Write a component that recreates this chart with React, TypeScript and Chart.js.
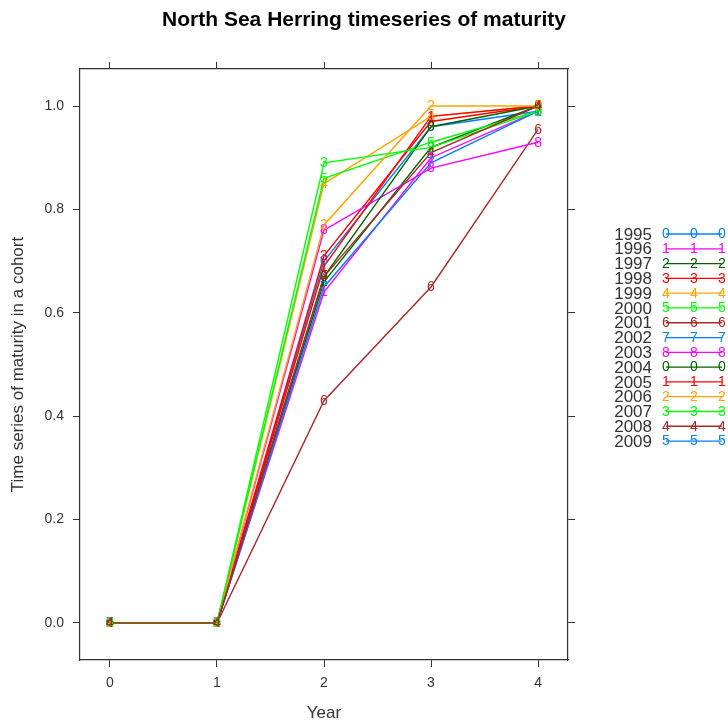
import React, { useEffect, useRef } from 'react';
import { Chart, registerables } from 'chart.js';

Chart.register(...registerables);

// ---- data ----
const AGES = [0, 1, 2, 3, 4];
const X_TICKS = [0, 1, 2, 3, 4];
const Y_TICKS = [0, 0.2, 0.4, 0.6, 0.8, 1.0];
const COHORTS = ['1995', '1996', '1997', '1998', '1999', '2000', '2001', '2002', '2003', '2004', '2005', '2006', '2007', '2008', '2009'];
const SYMBOLS = ['0', '1', '2', '3', '4', '5', '6', '7', '8', '0', '1', '2', '3', '4', '5'];
const PALETTE = ['#0080ff', '#ff00ff', '#006400', '#ff0000', '#ffa500', '#00ff00', '#a52a2a'];

const M1995 = [0, 0, 0.70, 0.96, 0.99];
const M1996 = [0, 0, 0.64, 0.90, 0.99];
const M1997 = [0, 0, 0.66, 0.92, 1.0];
const M1998 = [0, 0, 0.71, 0.97, 1.0];
const M1999 = [0, 0, 0.85, 0.98, 1.0];
const M2000 = [0, 0, 0.86, 0.93, 0.99];
const M2001 = [0, 0, 0.43, 0.65, 0.955];
const M2002 = [0, 0, 0.65, 0.89, 0.99];
const M2003 = [0, 0, 0.76, 0.88, 0.93];
const M2004 = [0, 0, 0.67, 0.96, 1.0];
const M2005 = [0, 0, 0.69, 0.98, 1.0];
const M2006 = [0, 0, 0.77, 1.0, 1.0];
const M2007 = [0, 0, 0.89, 0.92, 0.99];
const M2008 = [0, 0, 0.67, 0.91, 1.0];
const M2009: (number | null)[] = [null, null, null, null, null];
const SERIES = [M1995, M1996, M1997, M1998, M1999, M2000, M2001, M2002, M2003, M2004, M2005, M2006, M2007, M2008, M2009];

const TITLE = 'North Sea Herring timeseries of maturity';
const X_TITLE = 'Year';
const Y_TITLE = 'Time series of maturity in a cohort';

const FONT = '"Liberation Sans", Arial, sans-serif';
const AXIS_COL = '#333333';
const MARK_FONT = `14px ${FONT}`;

const markerPlugin = {
  id: 'pchMarkers',
  afterDatasetsDraw(chart: any) {
    const ctx = chart.ctx;
    ctx.save();
    ctx.font = MARK_FONT;
    ctx.textAlign = 'center';
    ctx.textBaseline = 'middle';
    chart.data.datasets.forEach((ds: any, i: number) => {
      const meta = chart.getDatasetMeta(i);
      ctx.fillStyle = ds.borderColor;
      meta.data.forEach((pt: any) => {
        if (pt.skip || !isFinite(pt.x) || !isFinite(pt.y)) return;
        ctx.fillText(ds.symbol, pt.x, pt.y + 0.5);
      });
    });
    ctx.restore();
  },
};

const keyPlugin = {
  id: 'latticeKey',
  afterDraw(chart: any) {
    const ctx = chart.ctx;
    const area = chart.chartArea;
    const textRight = area.right + 84;
    const lineStart = area.right + 98;
    const lineEnd = area.right + 154;
    const top = 234;
    const step = 14.79;
    ctx.save();
    chart.data.datasets.forEach((ds: any, i: number) => {
      const y = top + i * step;
      ctx.font = `17px ${FONT}`;
      ctx.textAlign = 'right';
      ctx.textBaseline = 'middle';
      ctx.fillStyle = AXIS_COL;
      ctx.fillText(ds.label, textRight, y + 1);
      ctx.strokeStyle = ds.borderColor;
      ctx.lineWidth = 1.3;
      ctx.beginPath();
      ctx.moveTo(lineStart, y);
      ctx.lineTo(lineEnd, y);
      ctx.stroke();
      ctx.font = MARK_FONT;
      ctx.textAlign = 'center';
      ctx.fillStyle = ds.borderColor;
      [lineStart, (lineStart + lineEnd) / 2, lineEnd].forEach((x) => ctx.fillText(ds.symbol, x, y + 0.5));
    });
    ctx.restore();
  },
};

const setTicks = (vals: number[]) => (scale: any) => {
  scale.ticks = vals.map((v) => ({ value: v }));
};

export default function App() {
  const ref = useRef<HTMLCanvasElement | null>(null);

  useEffect(() => {
    if (!ref.current) return;
    const datasets = SERIES.map((vals, i) => ({
      label: COHORTS[i],
      symbol: SYMBOLS[i],
      data: AGES.map((a, j) => ({ x: a, y: vals[j] })),
      borderColor: PALETTE[i % PALETTE.length],
      backgroundColor: PALETTE[i % PALETTE.length],
      borderWidth: 1.4,
      pointRadius: 0,
      pointHoverRadius: 0,
      tension: 0,
      fill: false,
      spanGaps: false,
      // later cohorts drawn on top, as lattice does
      order: SERIES.length - i,
    }));

    const gridCommon = {
      display: true,
      drawOnChartArea: false,
      drawTicks: true,
      tickLength: 7,
      color: AXIS_COL,
      lineWidth: 1,
    };
    const borderCommon = { display: true, color: AXIS_COL, width: 1.2 };
    const xMin = -0.28, xMax = 4.28, yMin = -0.0716, yMax = 1.0716;

    const chart = new Chart(ref.current, {
      type: 'line',
      data: { datasets } as any,
      plugins: [markerPlugin, keyPlugin],
      options: {
        animation: false,
        responsive: true,
        maintainAspectRatio: false,
        layout: { padding: 0 },
        plugins: {
          legend: { display: false },
          tooltip: { enabled: false },
          title: {
            display: true,
            text: TITLE,
            color: '#000',
            font: { size: 21, weight: 'bold', family: FONT },
            padding: { top: 8, bottom: 28.8 },
          },
        },
        scales: {
          x: {
            type: 'linear',
            position: 'bottom',
            min: xMin,
            max: xMax,
            afterBuildTicks: setTicks(X_TICKS),
            afterFit: (s: any) => { s.height = 67; },
            grid: gridCommon,
            border: borderCommon,
            ticks: {
              color: AXIS_COL,
              font: { size: 14, family: FONT },
              padding: 8,
              maxRotation: 0,
              callback: (v: any) => String(v),
            },
            title: {
              display: true,
              text: X_TITLE,
              color: AXIS_COL,
              font: { size: 17, family: FONT },
              padding: { top: 0, bottom: 3.8 },
            },
          },
          x2: {
            type: 'linear',
            position: 'top',
            min: xMin,
            max: xMax,
            afterBuildTicks: setTicks(X_TICKS),
            afterFit: (s: any) => { s.height = 7; },
            grid: gridCommon,
            border: borderCommon,
            ticks: { display: false },
          },
          y: {
            type: 'linear',
            position: 'left',
            min: yMin,
            max: yMax,
            afterBuildTicks: setTicks(Y_TICKS),
            afterFit: (s: any) => { s.width = 80; },
            grid: gridCommon,
            border: borderCommon,
            ticks: {
              color: AXIS_COL,
              font: { size: 14, family: FONT },
              padding: 9,
              callback: (v: any) => Number(v).toFixed(1),
            },
            title: {
              display: true,
              text: Y_TITLE,
              color: AXIS_COL,
              font: { size: 17, family: FONT },
              padding: { top: 7.8, bottom: 0 },
            },
          },
          y2: {
            type: 'linear',
            position: 'right',
            min: yMin,
            max: yMax,
            afterBuildTicks: setTicks(Y_TICKS),
            afterFit: (s: any) => { s.width = 160; },
            grid: gridCommon,
            border: borderCommon,
            ticks: { display: false },
          },
        },
      } as any,
    });
    return () => chart.destroy();
  }, []);

  return (
    <div style={{ position: 'fixed', left: 0, top: 0, width: 728, height: 727, background: '#fff' }}>
      <canvas ref={ref} />
    </div>
  );
}
